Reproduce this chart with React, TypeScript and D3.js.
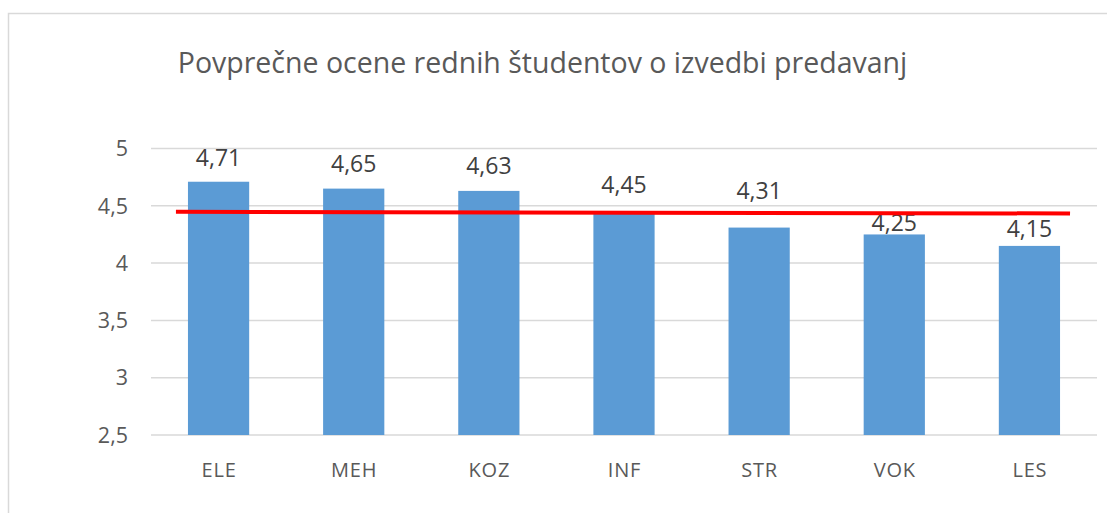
import React, { useEffect, useRef } from 'react';
import * as d3 from 'd3';

const categories = ['ELE', 'MEH', 'KOZ', 'INF', 'STR', 'VOK', 'LES'];
const values = [4.71, 4.65, 4.63, 4.45, 4.31, 4.25, 4.15];
const yTicks = [2.5, 3, 3.5, 4, 4.5, 5];
// red average line, drawn slightly tilted in the original
const avgLine = [4.448, 4.433];
const title = 'Povprečne ocene rednih študentov o izvedbi predavanj';
// the value labels were moved by hand in the original: gap above each bar (px)
const labelGap = [16, 17, 17, 19, 29, 3, 9];

const App = () => {
  const svgRef = useRef<SVGSVGElement | null>(null);

  useEffect(() => {
    const W = 1107;
    const H = 513;
    const svg = d3.select(svgRef.current).attr('width', W).attr('height', H);
    svg.selectAll('*').remove();

    const font = "'Open Sans', 'Noto Sans', sans-serif";
    const textColor = '#595959';

    // chart frame
    svg.append('rect')
      .attr('x', 8.5).attr('y', 13.5)
      .attr('width', 1120).attr('height', 520)
      .attr('fill', '#fff')
      .attr('stroke', '#d9d9d9')
      .attr('stroke-width', 1.5);

    const plot = { left: 151, right: 1097, top: 148.5, bottom: 435 };

    const x = d3.scaleBand<string>()
      .domain(categories)
      .range([plot.left, plot.right])
      .paddingInner(0.547)
      .paddingOuter(0.2735);

    const y = d3.scaleLinear()
      .domain([2.5, 5])
      .range([plot.bottom, plot.top]);

    // gridlines
    svg.append('g')
      .selectAll('line')
      .data(yTicks)
      .join('line')
      .attr('x1', plot.left)
      .attr('x2', plot.right)
      .attr('y1', d => y(d))
      .attr('y2', d => y(d))
      .attr('stroke', '#d9d9d9')
      .attr('stroke-width', 1.5);

    // y tick labels
    const fmt = (v: number) => String(v).replace('.', ',');
    svg.append('g')
      .selectAll('text')
      .data(yTicks)
      .join('text')
      .attr('x', 128)
      .attr('y', d => y(d))
      .attr('dy', '0.36em')
      .attr('text-anchor', 'end')
      .attr('font-family', font)
      .attr('font-size', 21.5)
      .attr('fill', textColor)
      .text(d => fmt(d));

    const data = categories.map((c, i) => ({ c, v: values[i], gap: labelGap[i] }));

    // bars
    svg.append('g')
      .selectAll('rect')
      .data(data)
      .join('rect')
      .attr('x', d => x(d.c) as number)
      .attr('y', d => y(d.v))
      .attr('width', x.bandwidth())
      .attr('height', d => y(2.5) - y(d.v))
      .attr('fill', '#5b9bd5');

    // value labels
    svg.append('g')
      .selectAll('text')
      .data(data)
      .join('text')
      .attr('x', d => (x(d.c) as number) + x.bandwidth() / 2)
      .attr('y', d => y(d.v) - d.gap)
      .attr('text-anchor', 'middle')
      .attr('font-family', font)
      .attr('font-size', 23)
      .attr('fill', '#404040')
      .text(d => d.v.toFixed(2).replace('.', ','));

    // category labels
    svg.append('g')
      .selectAll('text')
      .data(categories)
      .join('text')
      .attr('x', d => (x(d) as number) + x.bandwidth() / 2 + 0.5)
      .attr('y', 477)
      .attr('text-anchor', 'middle')
      .attr('font-family', font)
      .attr('font-size', 20)
      .attr('letter-spacing', 0.8)
      .attr('fill', textColor)
      .text(d => d);

    // average line
    const lx1 = (x(categories[0]) as number) - 12;
    const lx2 = (x(categories[categories.length - 1]) as number) + x.bandwidth() + 10;
    svg.append('line')
      .attr('x1', lx1)
      .attr('x2', lx2)
      .attr('y1', y(avgLine[0]))
      .attr('y2', y(avgLine[1]))
      .attr('stroke', '#ff0000')
      .attr('stroke-width', 4);

    // title
    svg.append('text')
      .attr('x', 542.5)
      .attr('y', 73)
      .attr('text-anchor', 'middle')
      .attr('font-family', font)
      .attr('font-size', 28.5)
      .attr('fill', textColor)
      .text(title);
  }, []);

  return (
    <svg ref={svgRef} style={{ position: 'absolute', left: 0, top: 0, display: 'block' }}></svg>
  );
};

export default App;
